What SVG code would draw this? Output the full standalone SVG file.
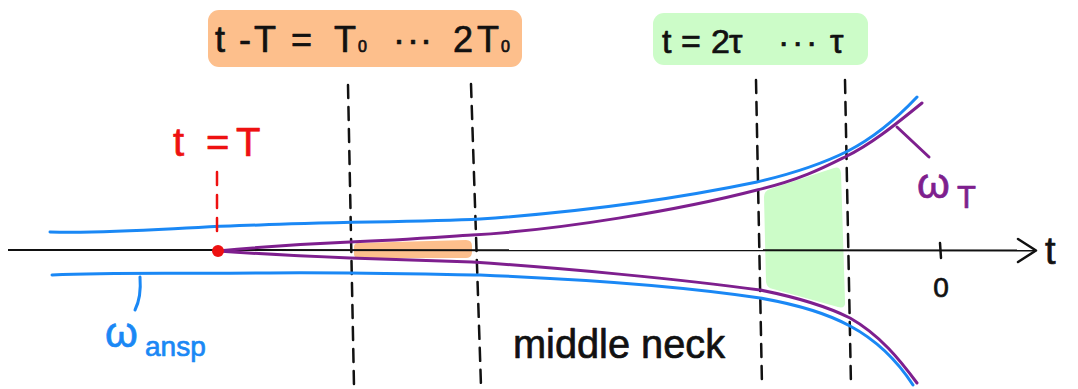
<svg xmlns="http://www.w3.org/2000/svg" width="1078" height="389" viewBox="0 0 1078 389">
<style>
  .hand { font-family: "Liberation Sans", "DejaVu Sans", sans-serif; stroke-width: 0.7; stroke-linejoin: round; }
  .blk { fill: #111; stroke: #111; }
  .dash { fill: none; stroke: #111; stroke-width: 2.5; stroke-dasharray: 13 9; stroke-linecap: round; }
  .blue { fill: none; stroke: #1a88f5; stroke-width: 3; stroke-linecap: round; }
  .purple { fill: none; stroke: #7e1f8e; stroke-width: 3; stroke-linecap: round; }
</style>
<rect width="1078" height="389" fill="#ffffff"/>

<g id="header-orange">
  <rect x="208" y="10" width="314" height="57" rx="11" fill="#fdbf8c"/>
  <text class="hand blk" font-size="36" y="52"><tspan x="215">t</tspan><tspan x="239">-</tspan><tspan x="254">T</tspan><tspan x="291">=</tspan><tspan x="334">T</tspan><tspan x="358" font-size="16">0</tspan><tspan x="393 407 420">···</tspan><tspan x="453">2</tspan><tspan x="477">T</tspan><tspan x="501" font-size="16">0</tspan></text>
</g>

<g id="header-green">
  <rect x="653" y="13" width="215" height="52" rx="11" fill="#ccfcc8"/>
  <text class="hand blk" font-size="34" y="53"><tspan x="662">t</tspan><tspan x="681">=</tspan><tspan x="711">2</tspan><tspan x="729">τ</tspan><tspan x="778 792 806">···</tspan><tspan x="830">τ</tspan></text>
</g>

<g id="regions">
  <path id="orange-bar" d="M358,243 L466,240 Q472,240 472,246 L472,252 Q472,258 466,258 L358,258 Q354,258 354,254 L354,247 Q354,243 358,243 Z" fill="#fdbf8c"/>
  <path id="green-region" d="M770,189 Q764,191 764,197 L766,282 Q767,288 773,289 L838,307 Q846,309 845,301 L841,173 Q840,166 834,168 Z" fill="#ccfcc8"/>
</g>

<g id="connectors">
  <path id="axis" d="M8,250 L1035,250.5" fill="none" stroke="#111" stroke-width="2"/>
  <path id="axis-arrow" d="M1018,239 L1036,250.5 L1018,262" fill="none" stroke="#111" stroke-width="2.5" stroke-linecap="round" stroke-linejoin="round"/>
  <path id="tick-0" d="M940,243 L941,258" stroke="#111" stroke-width="2.5" stroke-linecap="round"/>
  <path class="dash" d="M348,85 L354,386"/>
  <path class="dash" d="M471,84 L481,386"/>
  <path class="dash" d="M756,80 L762,386"/>
  <path class="dash" d="M845,80 L851,386"/>
  <path class="blue" d="M50,232 C120,234 180,227 260,225 C330,222 420,222 480,219 C580,212 680,198 757,182 C800,172 830,160 848,151 C875,137 900,115 917,97"/>
  <path class="blue" d="M52,275 C120,272 180,274 260,273 C340,272 420,274 480,275 C580,279 680,286 760,298 C800,305 830,315 850,326 C880,342 900,365 913,385"/>
  <path class="purple" d="M218,251 C260,247 300,244 350,242 C400,240 440,237 472,235 C560,230 680,210 757,190 C800,180 825,167 845,157 C870,145 895,125 922,103"/>
  <path class="purple" d="M218,251 C260,254 300,256 350,258 C400,260 440,261 472,262 C560,268 680,279 760,290 C800,298 830,308 850,318 C880,335 900,360 917,383"/>
  <path class="purple" d="M897,127 L929,157"/>
  <path class="blue" d="M140,277 C141,290 140,300 135,310"/>
  <path d="M217,172 L217,240" fill="none" stroke="#ee1111" stroke-width="2.5" stroke-dasharray="13 10" stroke-linecap="round"/>
</g>

<g id="point-T">
  <circle cx="218" cy="251" r="6" fill="#ee1111"/>
  <text class="hand" font-size="40" y="156" fill="#ee1111" stroke="#ee1111"><tspan x="173">t</tspan><tspan x="206">=</tspan><tspan x="236">T</tspan></text>
</g>

<g id="label-omega-T">
  <text class="hand" fill="#7e1f8e" stroke="#7e1f8e" font-size="42" y="198"><tspan x="917">ω</tspan><tspan x="957" y="208" font-size="31">T</tspan></text>
</g>

<g id="label-omega-ansp">
  <text class="hand" fill="#1a88f5" stroke="#1a88f5" font-size="42" y="347"><tspan x="105">ω</tspan><tspan x="145" y="356" font-size="28">ansp</tspan></text>
</g>

<g id="label-middle-neck">
  <text class="hand blk" font-size="40" x="513" y="358" textLength="212" lengthAdjust="spacingAndGlyphs">middle neck</text>
</g>

<g id="axis-labels">
  <text class="hand blk" font-size="38" x="1045" y="264">t</text>
  <text class="hand blk" font-size="28" x="941" y="297" text-anchor="middle">0</text>
</g>
</svg>
